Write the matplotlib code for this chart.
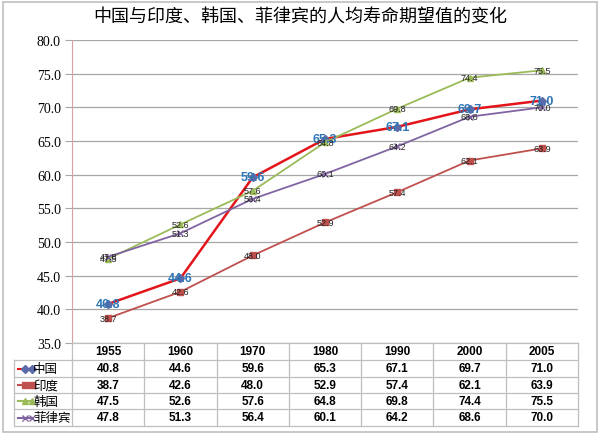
import matplotlib.pyplot as plt
from matplotlib.lines import Line2D
from matplotlib.patches import Rectangle

plt.rcParams['font.family'] = ['Noto Sans CJK SC', 'DejaVu Sans']

years = ['1955', '1960', '1970', '1980', '1990', '2000', '2005']
names = ['中国', '印度', '韩国', '菲律宾']
china = [40.8, 44.6, 59.6, 65.3, 67.1, 69.7, 71.0]
india = [38.7, 42.6, 48.0, 52.9, 57.4, 62.1, 63.9]
korea = [47.5, 52.6, 57.6, 64.8, 69.8, 74.4, 75.5]
philippines = [47.8, 51.3, 56.4, 60.1, 64.2, 68.6, 70.0]
yticks = [35, 40, 45, 50, 55, 60, 65, 70, 75, 80]

series = [china, india, korea, philippines]
line_colors = ['#E3151A', '#C0504D', '#9BBB59', '#8064A2']
line_widths = [1.8, 1.3, 1.3, 1.3]
markers = ['D', 's', '^', 'x']
marker_colors = ['#5B6BA8', '#C0504D', '#9BBB59', '#8064A2']

W, H = 600, 435
fig = plt.figure(figsize=(6, 4.35), dpi=100)
fig.patches.append(Rectangle((3 / W, 2 / H), 594 / W, 430 / H, transform=fig.transFigure,
                             fill=False, edgecolor='#BFBFBF', linewidth=1.2))

left, right, top, bottom = 72, 578, 41, 344
ax = fig.add_axes([left / W, 1 - bottom / H, (right - left) / W, (bottom - top) / H])
x = list(range(len(years)))

for ys, c, lw, m, mc in zip(series, line_colors, line_widths, markers, marker_colors):
    ax.plot(x, ys, color=c, linewidth=lw, marker=m, markersize=4.5 if m != 'x' else 5,
            markerfacecolor=mc, markeredgecolor=mc, zorder=3)

# data labels
for xi, v in zip(x, china):
    ax.text(xi, v, f'{v:.1f}', color='#2E75B6', fontsize=9, fontweight='bold',
            family=['Liberation Sans'], ha='center', va='center', zorder=5)
for ys in series[1:]:
    for xi, v in zip(x, ys):
        ax.text(xi, v, f'{v:.1f}', color='#222222', fontsize=6.5,
                family=['Liberation Sans'], ha='center', va='center', zorder=5)

ax.set_xlim(-0.5, len(years) - 0.5)
ax.set_ylim(35, 80)
ax.set_yticks(yticks)
ax.set_yticklabels([f'{t:.1f}' for t in yticks], family=['Liberation Serif'], fontsize=10)
ax.set_xticks([])
ax.grid(axis='y', color='#A6A6A6', linewidth=0.9)
ax.set_axisbelow(True)
for s in ['top', 'right', 'bottom']:
    ax.spines[s].set_visible(False)
ax.spines['left'].set_color('#D9A0A0')
ax.tick_params(axis='y', length=5, color='#A6A6A6', pad=3)

fig.text(0.5, 1 - 18 / H, '中国与印度、韩国、菲律宾的人均寿命期望值的变化',
         ha='center', va='center', fontsize=13)

# data table
tl, tr = 14, 578
row_y = [344, 361, 378, 394, 410, 427]
col_w = (right - left) / len(years)
grid_c = '#BFBFBF'


def fx(px):
    return px / W


def fy(py):
    return 1 - py / H


for i, yy in enumerate(row_y):
    x0 = left if i == 0 else tl
    fig.add_artist(Line2D([fx(x0), fx(tr)], [fy(yy), fy(yy)], color=grid_c, linewidth=0.9))
for j in range(len(years) + 1):
    xx = left + j * col_w
    fig.add_artist(Line2D([fx(xx), fx(xx)], [fy(row_y[0]), fy(row_y[-1])], color=grid_c, linewidth=0.9))
fig.add_artist(Line2D([fx(tl), fx(tl)], [fy(row_y[1]), fy(row_y[-1])], color=grid_c, linewidth=0.9))

for j, yr in enumerate(years):
    cx = left + (j + 0.5) * col_w
    fig.text(fx(cx), fy((row_y[0] + row_y[1]) / 2), yr, ha='center', va='center',
             fontsize=8.5, fontweight='bold', family=['Liberation Sans'])

for i, (nm, ys) in enumerate(zip(names, series)):
    cy = fy((row_y[i + 1] + row_y[i + 2]) / 2)
    fig.add_artist(Line2D([fx(18), fx(32)], [cy, cy], color=line_colors[i], linewidth=1.5,
                          marker=markers[i], markevery=[1], markersize=4,
                          markerfacecolor=marker_colors[i], markeredgecolor=marker_colors[i]))
    fig.add_artist(Line2D([fx(25)], [cy], color=line_colors[i], marker=markers[i], markersize=4,
                          markerfacecolor=marker_colors[i], markeredgecolor=marker_colors[i],
                          linestyle='none'))
    fig.text(fx(33), cy, nm, ha='left', va='center', fontsize=9)
    for j, v in enumerate(ys):
        cx = left + (j + 0.5) * col_w
        fig.text(fx(cx), cy, f'{v:.1f}', ha='center', va='center',
                 fontsize=8.5, fontweight='bold', family=['Liberation Sans'])

fig.savefig('out.png', dpi=100)
